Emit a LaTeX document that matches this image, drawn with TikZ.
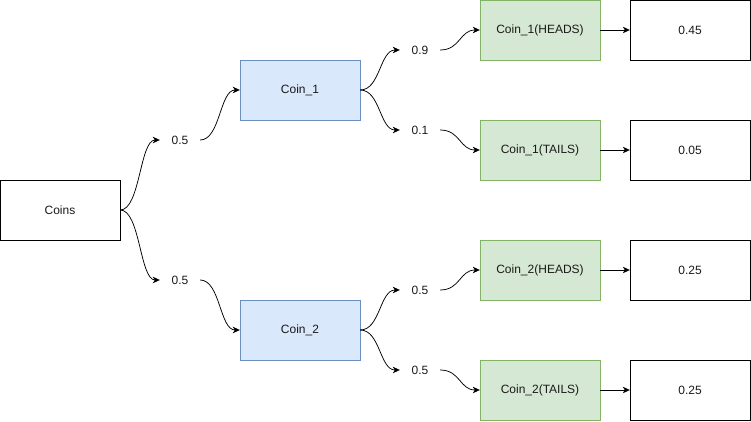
\documentclass[tikz,border=0pt]{standalone}
\usepackage{fontspec}
\setmainfont{Liberation Sans}
\usetikzlibrary{arrows.meta}
\definecolor{bluefill}{HTML}{DAE8FC}
\definecolor{bluestroke}{HTML}{6C8EBF}
\definecolor{greenfill}{HTML}{D5E8D4}
\definecolor{greenstroke}{HTML}{82B366}
\definecolor{txt}{HTML}{1A1A1A}
\tikzset{
  box/.style={draw=black, fill=white, minimum width=120pt, minimum height=60pt, inner sep=0pt, font=\fontsize{12}{14}\selectfont, text=txt},
  bluebox/.style={box, draw=bluestroke, fill=bluefill},
  greenbox/.style={box, draw=greenstroke, fill=greenfill},
  lbl/.style={minimum width=40pt, minimum height=20pt, inner sep=0pt, font=\fontsize{12}{14}\selectfont, text=txt},
  arr/.style={-{Stealth[length=7pt,width=6.5pt,inset=2pt]}, line width=0.75pt},
  plain/.style={line width=0.75pt}
}
\begin{document}
\begin{tikzpicture}[x=1pt,y=-1pt]
\useasboundingbox (0,0) rectangle (751,422);
\node[box] (coins) at (60,210) {Coins};
\node[bluebox] (c1) at (300,90) {Coin\_1};
\node[bluebox] (c2) at (300,330) {Coin\_2};
\node[greenbox] (h1) at (540,30) {Coin\_1(HEADS)};
\node[greenbox] (t1) at (540,150) {Coin\_1(TAILS)};
\node[greenbox] (h2) at (540,270) {Coin\_2(HEADS)};
\node[greenbox] (t2) at (540,390) {Coin\_2(TAILS)};
\node[box] (r1) at (690,30) {0.45};
\node[box] (r2) at (690,150) {0.05};
\node[box] (r3) at (690,270) {0.25};
\node[box] (r4) at (690,390) {0.25};
\node[lbl] (l1) at (180,140) {0.5};
\node[lbl] (l2) at (180,280) {0.5};
\node[lbl] (l3) at (420,50) {0.9};
\node[lbl] (l4) at (420,130) {0.1};
\node[lbl] (l5) at (420,290) {0.5};
\node[lbl] (l6) at (420,370) {0.5};
% coins -> labels -> coin boxes
\draw[arr] (coins.east) .. controls +(20,0) and +(-20,0) .. (l1.west);
\draw[arr] (l1.east) .. controls +(20,0) and +(-20,0) .. (c1.west);
\draw[arr] (coins.east) .. controls +(20,0) and +(-20,0) .. (l2.west);
\draw[arr] (l2.east) .. controls +(20,0) and +(-20,0) .. (c2.west);
% coin_1
\draw[arr] (c1.east) .. controls +(20,0) and +(-20,0) .. (l3.west);
\draw[arr] (l3.east) .. controls +(20,0) and +(-20,0) .. (h1.west);
\draw[arr] (c1.east) .. controls +(20,0) and +(-20,0) .. (l4.west);
\draw[arr] (l4.east) .. controls +(20,0) and +(-20,0) .. (t1.west);
% coin_2
\draw[arr] (c2.east) .. controls +(20,0) and +(-20,0) .. (l5.west);
\draw[arr] (l5.east) .. controls +(20,0) and +(-20,0) .. (h2.west);
\draw[arr] (c2.east) .. controls +(20,0) and +(-20,0) .. (l6.west);
\draw[arr] (l6.east) .. controls +(20,0) and +(-20,0) .. (t2.west);
% results
\draw[arr] (h1) -- (r1);
\draw[arr] (t1) -- (r2);
\draw[arr] (h2) -- (r3);
\draw[arr] (t2) -- (r4);
\end{tikzpicture}
\end{document}
